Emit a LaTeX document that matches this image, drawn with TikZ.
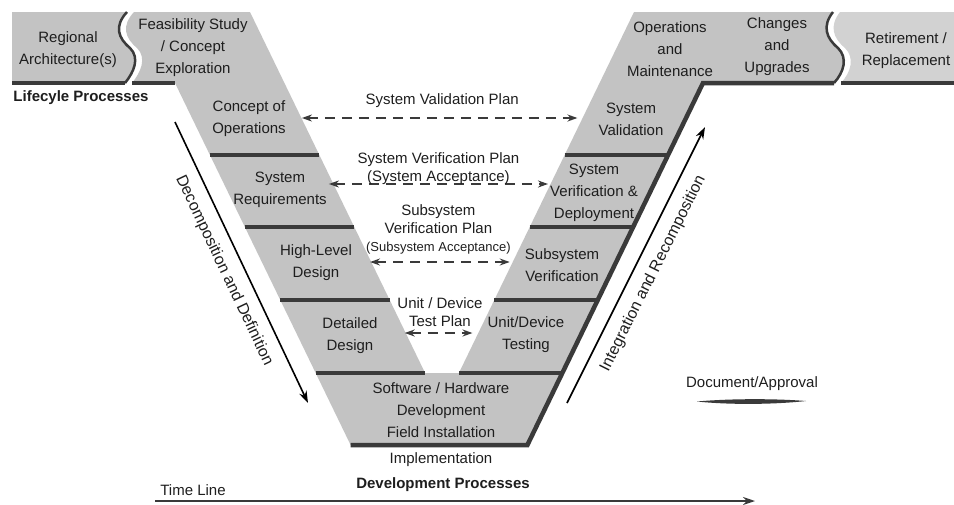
\documentclass[tikz,border=0pt]{standalone}
\usepackage{fontspec}
\setmainfont{Liberation Sans}
\usetikzlibrary{arrows.meta}

\definecolor{vfill}{HTML}{C3C3C3}
\definecolor{vlight}{HTML}{D2D2D2}
\definecolor{vdark}{HTML}{3A3A3A}
\definecolor{vink}{HTML}{1E1E1E}

\newcommand{\blockfont}{\fontsize{15}{22}\selectfont}
\newcommand{\planfont}{\fontsize{15}{18}\selectfont}
\newcommand{\smallplanfont}{\fontsize{13}{18}\selectfont}
\newcommand{\sidefont}{\fontsize{16}{18}\selectfont}

\begin{document}
\begin{tikzpicture}[x=1pt,y=-1pt]

      \useasboundingbox (0,0) rectangle (954,504);

      \begin{scope}[fill=vfill]
        \fill (12,12) -- (127,12) .. controls (114,26) and (118,38) .. (130,48)
              .. controls (140,58) and (134,72) .. (125,83) -- (12,83) -- cycle;
        \fill (134,12) -- (250,12) -- (425.1,373) -- (458.9,373) -- (634,12) -- (833,12)
              .. controls (822,26) and (826,38) .. (838,48)
              .. controls (848,58) and (844,72) .. (834,83)
              -- (703,83) -- (527.4,445) -- (350.6,445) -- (175,83) -- (132,83)
              .. controls (141,72) and (147,58) .. (137,48)
              .. controls (125,38) and (121,26) .. (134,12) -- cycle;
        \fill[vlight] (840,12) -- (954,12) -- (954,83) -- (841,83)
              .. controls (851,72) and (855,58) .. (845,48)
              .. controls (833,38) and (829,26) .. (840,12) -- cycle;
      \end{scope}

      \begin{scope}[vdark, line width=4pt]
        \draw (209.9,155) -- (319.4,155);
        \draw (244.8,227) -- (354.3,227);
        \draw (280.2,300) -- (389.7,300);
        \draw (315.7,373) -- (425.1,373);
        \draw (564.6,155) -- (668.1,155);
        \draw (529.7,227) -- (633.2,227);
        \draw (494.3,300) -- (597.8,300);
        \draw (458.9,373) -- (562.4,373);
        \draw (12,83) -- (125,83);
        \draw (132,83) -- (175,83);
        \draw (841,83) -- (954,83);
        \draw[line width=4.5pt] (834,83) -- (703,83) -- (527.4,445) -- (350.6,445);
        \draw[line width=2.5pt] (127,12) .. controls (114,26) and (118,38) .. (130,48)
              .. controls (140,58) and (134,72) .. (125,83);
        \draw[line width=2.5pt] (833,12) .. controls (822,26) and (826,38) .. (838,48)
              .. controls (848,58) and (844,72) .. (834,83);
        \fill (697,401.5) .. controls (730,398.5) and (775,398.5) .. (806,401)
              .. controls (775,404.5) and (730,405) .. (697,401.5) -- cycle;
      \end{scope}

      \begin{scope}[every node/.style={align=center, inner sep=2pt, text=vink, font=\blockfont}]
        \node (1)  at (68,50)   {Regional\\Architecture(s)};
        \node (2)  at (193,48)  {Feasibility Study\\/ Concept\\Exploration};
        \node (3)  at (249,119) {Concept of\\Operations};
        \node (4)  at (280,190) {System\\Requirements};
        \node (5)  at (316,263) {High-Level\\Design};
        \node (6)  at (350,336) {Detailed\\Design};
        \node (7)  at (441,410) {Software / Hardware\\Development\\Field Installation};
        \node (8)  at (526,335) {Unit/Device\\Testing};
        \node (9)  at (562,265) {Subsystem\\Verification};
        \node (10) at (594,193) {System\\Verification \&\\Deployment};
        \node (11) at (631,119) {System\\Validation};
        \node (12) at (670,49)  {Operations\\and\\Maintenance};
        \node (13) at (777,47)  {Changes\\and\\Upgrades};
        \node (14) at (906,51)  {Retirement /\\Replacement};
        \node (15) at (441,460) {Implementation};
        \node (16) at (81,98)   {\bfseries Lifecyle Processes};
        \node (17) at (443,485) {\bfseries Development Processes};
        \node (18) at (193,490) {Time Line};
        \node (19) at (752,384) {Document/Approval};
      \end{scope}

      \begin{scope}[every node/.style={align=center, inner sep=1pt, text=vink, font=\planfont},
                    every edge/.style={draw, vdark, line width=2pt, dash pattern=on 10pt off 7pt,
                                       <->, >={Stealth[length=10pt,width=7pt]}}]
        \path ([yshift=1pt]3.east) edge[shorten <=14pt, shorten >=19pt]
              node[above=8pt] (20) {System Validation Plan} ([yshift=1pt]11.west);
        \path ([yshift=6pt]4.east) edge
              node[above=-3pt] (21) {System Verification Plan\\(System Acceptance)} ([yshift=9pt]10.west);
        \path ([yshift=1pt]5.east) edge[shorten <=16pt, shorten >=13pt]
              node[above=5.5pt] (22) {Subsystem\\Verification Plan\\{\smallplanfont (Subsystem Acceptance)}} ([yshift=3pt]9.west);
        \path ([yshift=3pt]6.east) edge[shorten <=25pt, shorten >=13pt]
              node[above=4.5pt, pos=.57] (23) {Unit / Device\\Test Plan} ([yshift=2pt]8.west);
      \end{scope}

      \coordinate (24) at (175,122);
      \coordinate (25) at (308,403);
      \coordinate (26) at (567,403);
      \coordinate (27) at (705,127);
      \coordinate (28) at (155,501);
      \coordinate (29) at (755,501);

      \begin{scope}[every node/.style={font=\sidefont, text=vink, sloped, inner sep=1pt},
                    every edge/.style={draw, black, line width=1.6pt, -{Stealth[length=12pt,width=8pt]}}]
        \path (24) edge node[below=10pt] (30) {Decomposition and Definition} (25);
        \path (26) edge node[below=10pt] (31) {Integration and Recomposition} (27);
        \path (28) edge[vdark, line width=1.6pt] (29);
      \end{scope}

    \end{tikzpicture}
\end{document}
